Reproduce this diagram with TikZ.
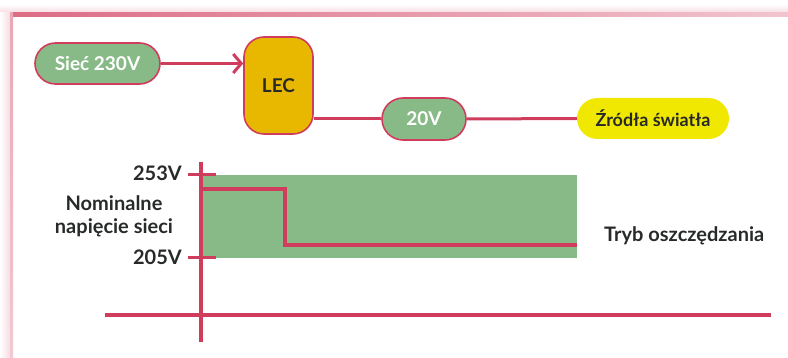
\documentclass[tikz,border=0pt]{standalone}
\usepackage{fontspec}
\setmainfont{Lato}
\usetikzlibrary{arrows.meta}
\definecolor{crim}{RGB}{208,60,92}
\definecolor{leaf}{RGB}{136,186,136}
\definecolor{gold}{RGB}{232,184,0}
\definecolor{lemon}{RGB}{240,232,0}
\definecolor{ink}{RGB}{40,42,42}
\tikzset{
  pill/.style={draw=crim,line width=1.6pt,fill=leaf,text=white,inner sep=0pt,font=\bfseries\fontsize{19}{24}\selectfont},
  lecbox/.style={draw=crim,line width=1.6pt,fill=gold,text=ink,inner sep=0pt,rounded corners=20pt,font=\bfseries\fontsize{19}{24}\selectfont},
  lightbox/.style={fill=lemon,text=ink,inner sep=0pt,font=\bfseries\fontsize{18}{24}\selectfont},
  conn/.style={draw=crim,line width=3pt},
  axisline/.style={draw=crim,line width=4pt},
  stepline/.style={draw=crim,line width=3.5pt},
  lbl/.style={text=ink,inner sep=0pt,font=\bfseries\fontsize{20}{23}\selectfont},
}
\begin{document}
\begin{tikzpicture}[x=1pt,y=-1pt]
\useasboundingbox (0,0) rectangle (788,358);
% frame with soft shadow
\shade[top color=white,bottom color=crim!18] (0,4) rectangle (788,13);
\shade[left color=crim!75,right color=crim!30] (11,13) rectangle (788,16.5);
\shade[left color=white,right color=crim!18] (0,13) rectangle (10,358);
\shade[top color=crim!45,bottom color=crim!28] (10,13) rectangle (13,358);
% top flow
\node[pill,minimum width=125pt,minimum height=41pt,rounded corners=20.5pt] (siec) at (97.5,63.5) {Sieć 230V};
\node[lecbox,minimum width=69pt,minimum height=97pt] (lec) at (278.5,85.5) {LEC};
\node[pill,minimum width=84pt,minimum height=42pt,rounded corners=21pt] (v20) at (424,119) {20V};
\node[lightbox,minimum width=152pt,minimum height=41pt,rounded corners=20.5pt] (zr) at (653,118.5) {Źródła światła};
\draw[conn,-{Straight Barb[length=8pt,width=19pt,line width=3pt]}] (siec.east) -- (siec.east -| lec.west);
\draw[conn] (lec.east |- v20.west) -- (v20.west);
\draw[conn] (v20.east) -- (zr.west);
% chart
\coordinate (o) at (201,315.5);
\coordinate (ytop) at (201,162);
\coordinate (ybot) at (201,342);
\coordinate (xl) at (105,315.5);
\coordinate (xr) at (771,315.5);
\fill[leaf] (201,175) rectangle (577,258);
\draw[stepline] (201,189) -- (285,189) -- (285,245) -- (577,245);
\draw[axisline] (ytop) -- (ybot);
\draw[axisline] (xl) -- (xr);
\draw[conn] (188,175) -- (216,175);
\draw[conn] (188,258) -- (216,258);
\node[lbl,anchor=east] (hi) at (182,173) {253V};
\node[lbl,anchor=east] (lo) at (182,257) {205V};
\node[lbl,align=center] (nom) at (114,216) {Nominalne\\napięcie sieci};
\node[lbl,anchor=west] (tryb) at (604,236) {Tryb oszczędzania};
\end{tikzpicture}
\end{document}
